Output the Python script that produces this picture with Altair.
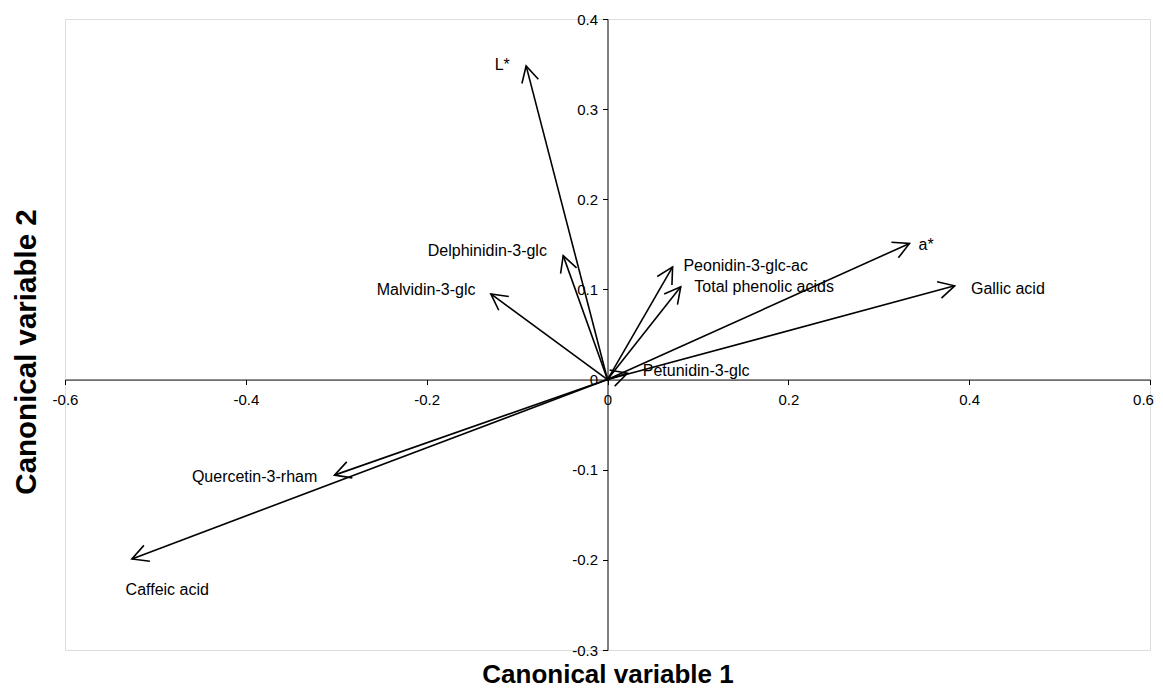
import altair as alt
import pandas as pd

# variable names and their canonical loadings (arrow tips)
names = ["L*", "Delphinidin-3-glc", "Malvidin-3-glc", "Peonidin-3-glc-ac",
         "Total phenolic acids", "Petunidin-3-glc", "a*", "Gallic acid",
         "Quercetin-3-rham", "Caffeic acid"]
cv1 = [-0.090, -0.049, -0.129, 0.072, 0.081, 0.022, 0.334, 0.384, -0.302, -0.526]
cv2 = [0.348, 0.1375, 0.095, 0.125, 0.103, 0.007, 0.151, 0.104, -0.106, -0.199]

# label anchor positions (data units) and alignment
label_cv1 = [-0.108, -0.067, -0.146, 0.084, 0.096, 0.039, 0.344, 0.402, -0.321, -0.533]
label_cv2 = [0.349, 0.143, 0.099, 0.126, 0.103, 0.009, 0.149, 0.1005, -0.108, -0.233]
label_align = ["right", "right", "right", "left", "left", "left", "left", "left", "right", "left"]

x_ticks = [-0.6, -0.4, -0.2, 0, 0.2, 0.4, 0.6]
y_ticks = [-0.3, -0.2, -0.1, 0, 0.1, 0.2, 0.3, 0.4]

W, H = 1085, 631
XD = [-0.6, 0.6]
YD = [-0.3, 0.4]
px_x = W / (XD[1] - XD[0])
px_y = H / (YD[1] - YD[0])

df = pd.DataFrame({"name": names, "cv1": cv1, "cv2": cv2,
                   "lx": label_cv1, "ly": label_cv2, "al": label_align})
df["x0"] = 0.0
df["y0"] = 0.0

FONT = "Liberation Sans"

xscale = alt.Scale(domain=XD, nice=False, zero=False)
yscale = alt.Scale(domain=YD, nice=False, zero=False)

x_axis = alt.Axis(values=x_ticks, orient="bottom",
                  offset=-(H * (0 - YD[0]) / (YD[1] - YD[0])),
                  grid=False, labelExpr="'' + datum.value", labelFlush=False,
                  labelOffset={"condition": {"test": "datum.value == 0.6", "value": -7}, "value": 0},
                  labelFont=FONT, labelFontSize=15, labelColor="#000000",
                  labelPadding=8, tickSize=5, tickColor="#000000", domainColor="#000000",
                  domainWidth=1, tickWidth=1,
                  title="Canonical variable 1", titleFont=FONT, titleFontSize=26,
                  titleFontWeight="bold", titleColor="#000000",
                  titleX=W / 2, titleY=303, titleAlign="center", titleBaseline="alphabetic",
                  titleAngle=0)
y_axis = alt.Axis(values=y_ticks, orient="left",
                  offset=-(W * (0 - XD[0]) / (XD[1] - XD[0])),
                  grid=False, labelExpr="'' + datum.value", labelFlush=False,
                  labelFont=FONT, labelFontSize=15, labelColor="#000000",
                  labelPadding=5, tickSize=5, tickColor="#000000", domainColor="#000000",
                  domainWidth=1, tickWidth=1,
                  title="Canonical variable 2", titleFont=FONT, titleFontSize=29.5,
                  titleFontWeight="bold", titleColor="#000000",
                  titleX=-581.5, titleY=332.5, titleAlign="center", titleBaseline="middle",
                  titleAngle=270)

base = alt.Chart(df)

lines = base.mark_rule(color="black", strokeWidth=1.6).encode(
    x=alt.X("x0:Q", scale=xscale, axis=x_axis),
    y=alt.Y("y0:Q", scale=yscale, axis=y_axis),
    x2="cv1:Q",
    y2="cv2:Q",
)

heads = base.transform_calculate(
    ang=f"(atan2(-datum.cv2*{px_y}, datum.cv1*{px_x})*180/PI + 360) % 360"
).mark_point(
    shape="M -1 -0.53 L 0 0 L -1 0.53", filled=False, size=1024,
    color="black", strokeWidth=1.6, opacity=1
).encode(
    x=alt.X("cv1:Q", scale=xscale),
    y=alt.Y("cv2:Q", scale=yscale),
    angle=alt.Angle("ang:Q", scale=None),
)

labels_r = base.transform_filter("datum.al == 'right'").mark_text(
    align="right", baseline="middle", font=FONT, fontSize=16, color="#000000"
).encode(x=alt.X("lx:Q", scale=xscale), y=alt.Y("ly:Q", scale=yscale), text="name:N")

labels_l = base.transform_filter("datum.al == 'left'").mark_text(
    align="left", baseline="middle", font=FONT, fontSize=16, color="#000000"
).encode(x=alt.X("lx:Q", scale=xscale), y=alt.Y("ly:Q", scale=yscale), text="name:N")

chart = alt.layer(lines, heads, labels_r, labels_l).properties(
    width=W, height=H,
    autosize=alt.AutoSizeParams(type="none"),
    padding={"left": 57, "top": 11, "right": 5, "bottom": 39},
).configure_view(stroke="#8c8c8c", strokeWidth=1.5).configure(background="white")

chart.save("out.html", embed_options={"renderer": "svg", "actions": False})
